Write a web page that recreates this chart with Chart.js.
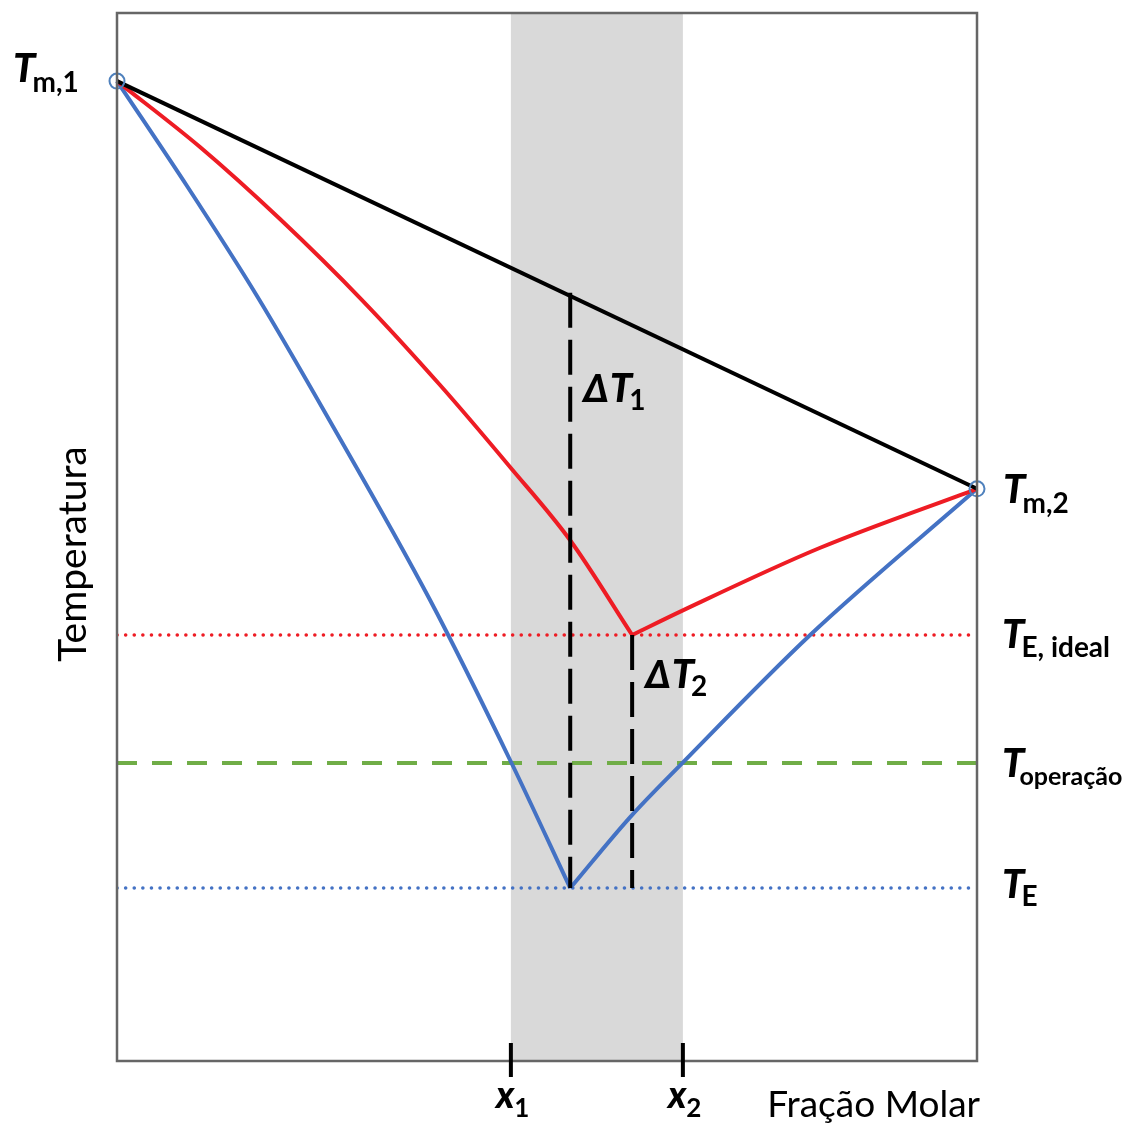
<!DOCTYPE html>
<html>
<head>
<meta charset="utf-8">
<script src="https://cdn.jsdelivr.net/npm/chart.js@4.4.1/dist/chart.umd.min.js"></script>
<style>
  html, body { margin: 0; padding: 0; background: #ffffff; }
  #wrap { width: 1125px; height: 1124px; position: relative; }
</style>
</head>
<body>
<div id="wrap"><canvas id="c" width="1125" height="1124"></canvas></div>
<script>
// ---- Data (x = mole fraction 0..1, T = temperature in arbitrary units 0..100) ----
const tm1 = { x: 0, T: 93.5 };
const tm2 = { x: 1, T: 54.6 };
const teIdeal = { x: 0.599, T: 40.65 };
const te = { x: 0.527, T: 16.5 };
const tOperacao = 28.44;
const x1 = 0.458;
const x2 = 0.658;

// ideal liquidus (black straight line)
const idealX = [0, 1];
const idealT = [93.5, 54.6];

// red liquidus, left branch
const redLeftX = [0, 0.0965, 0.1895, 0.2849, 0.3756, 0.457, 0.5267, 0.599];
const redLeftT = [93.5, 87.21, 80.34, 72.61, 64.5, 56.68, 49.71, 40.65];
// red liquidus, right branch
const redRightX = [0.599, 0.658, 0.817, 1];
const redRightT = [40.65, 43.0, 48.95, 54.6];

// blue liquidus, left branch
const blueLeftX = [0, 0.0814, 0.1628, 0.2442, 0.364, 0.4593, 0.527];
const blueLeftT = [93.5, 83.49, 73.0, 61.55, 43.99, 28.34, 16.5];
// blue liquidus, right branch
const blueRightX = [0.527, 0.597, 0.657, 0.806, 1];
const blueRightT = [16.5, 23.3, 28.4, 40.65, 54.6];

// ΔT markers
const dT1X = 0.527, dT1Top = 73.3, dT1Bottom = 16.5;
const dT2X = 0.599, dT2Top = 40.65, dT2Bottom = 16.5;

// text labels
const tickLabels = ['x', 'x'];
const tickSubs = ['1', '2'];
const xAxisTitle = 'Fração Molar';
const yAxisTitle = 'Temperatura';

const pts = (xs, ys) => xs.map((v, i) => ({ x: v, y: ys[i] }));

const FONT = "Lato, 'Open Sans', 'DejaVu Sans', sans-serif";
const BLUE = '#4472c4';
const RED = '#ee1c24';
const GREEN = '#70ad47';

const bandPlugin = {
  id: 'band',
  beforeDatasetsDraw(chart) {
    const { ctx, chartArea: a, scales } = chart;
    const px1 = scales.x.getPixelForValue(x1);
    const px2 = scales.x.getPixelForValue(x2);
    ctx.save();
    ctx.fillStyle = '#d9d9d9';
    ctx.fillRect(px1, a.top, px2 - px1, a.bottom - a.top);
    ctx.restore();
  }
};

function rich(ctx, x, y, parts) {
  let cx = x;
  for (const p of parts) {
    ctx.font = p.font;
    ctx.fillText(p.t, cx + (p.dx || 0), y + (p.dy || 0));
    cx += (p.dx || 0) + ctx.measureText(p.t).width;
  }
}

const overlayPlugin = {
  id: 'overlay',
  afterDraw(chart) {
    const { ctx, chartArea: a, scales } = chart;
    const X = v => scales.x.getPixelForValue(v);
    const Y = v => scales.y.getPixelForValue(v);
    ctx.save();
    // frame
    ctx.strokeStyle = '#666666';
    ctx.lineWidth = 2.5;
    ctx.strokeRect(a.left, a.top, a.right - a.left, a.bottom - a.top);
    // tick marks at x1, x2
    ctx.strokeStyle = '#000000';
    ctx.lineWidth = 4;
    [x1, x2].forEach(v => {
      ctx.beginPath();
      ctx.moveTo(X(v), a.bottom - 18);
      ctx.lineTo(X(v), a.bottom + 16);
      ctx.stroke();
    });

    ctx.fillStyle = '#000000';
    ctx.textBaseline = 'alphabetic';
    ctx.textAlign = 'left';
    const TF = `italic 900 40px ${FONT}`;
    const SF = `bold 28px ${FONT}`;

    rich(ctx, a.left - 104, Y(tm1.T) + 1, [
      { t: 'T', font: TF }, { t: 'm,1', font: SF, dy: 10, dx: -3 }]);
    rich(ctx, a.right + 26, Y(tm2.T) + 14, [
      { t: 'T', font: TF }, { t: 'm,2', font: SF, dy: 10, dx: -3 }]);
    rich(ctx, a.right + 25, Y(teIdeal.T) + 13, [
      { t: 'T', font: TF }, { t: 'E, ideal', font: SF, dy: 9, dx: -3 }]);
    rich(ctx, a.right + 25, Y(tOperacao) + 14, [
      { t: 'T', font: TF }, { t: 'operação', font: `bold 25px ${FONT}`, dy: 8, dx: -5 }]);
    rich(ctx, a.right + 25, Y(te.T) + 10, [
      { t: 'T', font: TF }, { t: 'E', font: SF, dy: 8, dx: -3 }]);

    // ΔT labels
    rich(ctx, X(dT1X) + 13, 402, [
      { t: 'Δ', font: `italic 900 38px ${FONT}` }, { t: 'T', font: TF, dx: 1 },
      { t: '1', font: SF, dy: 8, dx: -3 }]);
    rich(ctx, X(dT2X) + 13, 688, [
      { t: 'Δ', font: `italic 900 38px ${FONT}` }, { t: 'T', font: TF, dx: 1 },
      { t: '2', font: SF, dy: 8, dx: -3 }]);

    // x1, x2 labels
    [x1, x2].forEach((v, i) => {
      rich(ctx, X(v) - 15, a.bottom + 47, [
        { t: tickLabels[i], font: `italic 900 37px ${FONT}` },
        { t: tickSubs[i], font: `bold 26px ${FONT}`, dy: 9, dx: 0 }]);
    });

    // axis titles
    ctx.font = `37px ${FONT}`;
    ctx.textAlign = 'right';
    ctx.fillText(xAxisTitle, a.right + 3, a.bottom + 56);
    ctx.save();
    ctx.font = `39px ${FONT}`;
    ctx.translate(a.left - 31, (a.top + a.bottom) / 2 + 17);
    ctx.rotate(-Math.PI / 2);
    ctx.textAlign = 'center';
    ctx.fillText(yAxisTitle, 0, 0);
    ctx.restore();
    ctx.restore();
  }
};

const lineDs = (data, color, extra) => Object.assign({
  data, showLine: true, borderColor: color, borderWidth: 4,
  pointRadius: 0, fill: false, tension: 0
}, extra || {});

new Chart(document.getElementById('c'), {
  type: 'scatter',
  data: {
    datasets: [
      lineDs([{ x: tm1.x, y: tm1.T }, { x: tm2.x, y: tm2.T }], 'rgba(0,0,0,0)', {
        showLine: false, pointRadius: 7.5, pointBorderColor: '#4f81bd', clip: false,
        pointBackgroundColor: 'rgba(0,0,0,0)', pointBorderWidth: 2, order: 0 }),
      lineDs([{ x: dT1X, y: dT1Top }, { x: dT1X, y: dT1Bottom }], '#000000', { borderDash: [35, 12], order: 1 }),
      lineDs([{ x: dT2X, y: dT2Top }, { x: dT2X, y: dT2Bottom }], '#000000', { borderDash: [35, 12], order: 1 }),
      lineDs(pts(idealX, idealT), '#000000', { order: 2, clip: false }),
      lineDs(pts(redLeftX, redLeftT), RED, { cubicInterpolationMode: 'monotone', order: 3, clip: false }),
      lineDs(pts(redRightX, redRightT), RED, { cubicInterpolationMode: 'monotone', order: 3, clip: false }),
      lineDs(pts(blueLeftX, blueLeftT), BLUE, { cubicInterpolationMode: 'monotone', order: 3, clip: false }),
      lineDs(pts(blueRightX, blueRightT), BLUE, { cubicInterpolationMode: 'monotone', order: 3, clip: false }),
      lineDs([{ x: 0, y: tOperacao }, { x: 1, y: tOperacao }], GREEN, { borderDash: [20, 15], order: 4 }),
      lineDs([{ x: 0, y: teIdeal.T }, { x: 1, y: teIdeal.T }], RED, { borderWidth: 3.5, borderDash: [0.1, 8.5], borderCapStyle: 'round', order: 5 }),
      lineDs([{ x: 0, y: te.T }, { x: 1, y: te.T }], BLUE, { borderWidth: 3.5, borderDash: [0.1, 8.5], borderCapStyle: 'round', order: 5 })
    ]
  },
  options: {
    responsive: false,
    animation: false,
    layout: { padding: { left: 117, right: 148, top: 13, bottom: 63 } },
    scales: {
      x: { type: 'linear', min: 0, max: 1, display: false },
      y: { type: 'linear', min: 0, max: 100, display: false }
    },
    plugins: { legend: { display: false }, tooltip: { enabled: false } }
  },
  plugins: [bandPlugin, overlayPlugin]
});
</script>
</body>
</html>
